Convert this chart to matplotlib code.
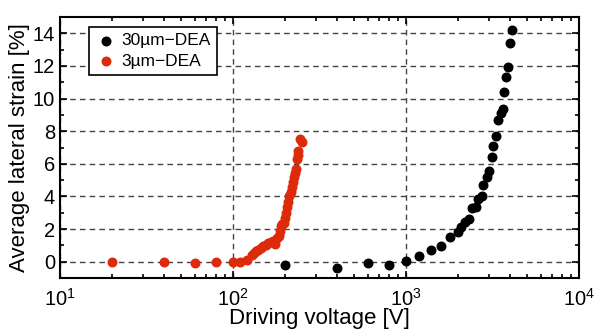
import numpy as np
import matplotlib.pyplot as plt
from matplotlib.ticker import LogLocator, MultipleLocator, NullFormatter

plt.rcParams['font.family'] = ['Liberation Sans', 'DejaVu Sans']

# 30um-DEA (black)
v30 = [200, 401, 600, 798, 1000, 1195, 1397, 1594, 1795, 1990, 2080, 2195,
       2313, 2397, 2530, 2600, 2740, 2800, 2927, 3020, 3128, 3197, 3315,
       3418, 3526, 3620, 3700, 3783, 3900, 3993, 4083]
s30 = [-0.18, -0.37, -0.08, -0.22, 0.06, 0.37, 0.73, 0.96, 1.49, 1.84, 2.1,
       2.45, 2.61, 3.28, 3.33, 3.83, 4.04, 4.69, 5.22, 5.57, 6.44, 7.09, 7.71,
       8.67, 9.14, 9.38, 10.4, 11.34, 11.95, 13.38, 14.23]

# 3um-DEA (red)
v3 = [20, 40, 60, 80, 100, 110, 120, 128, 132, 136, 140, 145, 150, 155, 160,
      165, 170, 175, 180, 185, 188, 190, 193, 196, 200, 203, 206, 209, 212,
      215, 218, 221, 224, 227, 230, 233, 236, 239, 244, 249]
s3 = [0.0, -0.02, -0.1, -0.02, 0.0, 0.0, 0.1, 0.4, 0.55, 0.65, 0.75, 0.85,
      0.95, 1.05, 1.15, 1.22, 1.3, 1.1, 1.45, 1.6, 1.9, 2.2, 2.3, 2.4, 2.7,
      3.0, 3.35, 3.65, 4.0, 4.3, 4.6, 4.9, 5.2, 5.45, 5.7, 6.3, 6.55, 6.8,
      7.5, 7.35]

fig = plt.figure(figsize=(6.0, 3.33), dpi=100)
ax = fig.add_axes([0.1, 0.165, 0.865, 0.784])

ax.scatter(v30, s30, s=38, color='black', label='30\u00b5m\u2212DEA', zorder=3)
ax.scatter(v3, s3, s=38, color='#dc2a0a', label='3\u00b5m\u2212DEA', zorder=3)

ax.set_xscale('log')
ax.set_xlim(10, 1e4)
ax.set_ylim(-1, 15)
ax.xaxis.set_major_locator(LogLocator(base=10, numticks=10))
ax.xaxis.set_minor_locator(LogLocator(base=10, subs=np.arange(2, 10), numticks=10))
ax.xaxis.set_minor_formatter(NullFormatter())
ax.yaxis.set_major_locator(MultipleLocator(2))
ax.yaxis.set_minor_locator(MultipleLocator(1))
ax.set_yticks(np.arange(0, 15, 2))

ax.grid(True, which='major', linestyle=(0, (4, 3)), color='#444444', linewidth=1.0)
ax.tick_params(which='both', direction='in', top=True, right=True, labelsize=14.5,
               width=1.2)
ax.tick_params(which='major', length=5)
ax.tick_params(which='minor', length=3)
ax.tick_params(axis='x', pad=7)
for sp in ax.spines.values():
    sp.set_linewidth(1.5)

ax.set_xlabel('Driving voltage [V]', fontsize=16, labelpad=-1)
ax.set_ylabel('Average lateral strain [%]', fontsize=16, labelpad=2)

leg = ax.legend(loc='upper left', bbox_to_anchor=(0.04, 0.995), fontsize=12.5,
                frameon=True, fancybox=False, edgecolor='black',
                handletextpad=0.3, borderpad=0.35, labelspacing=0.3,
                handlelength=1.2, markerscale=1.0)
leg.get_frame().set_linewidth(1.2)
leg.get_frame().set_alpha(1)

fig.savefig('out.png', dpi=100)
